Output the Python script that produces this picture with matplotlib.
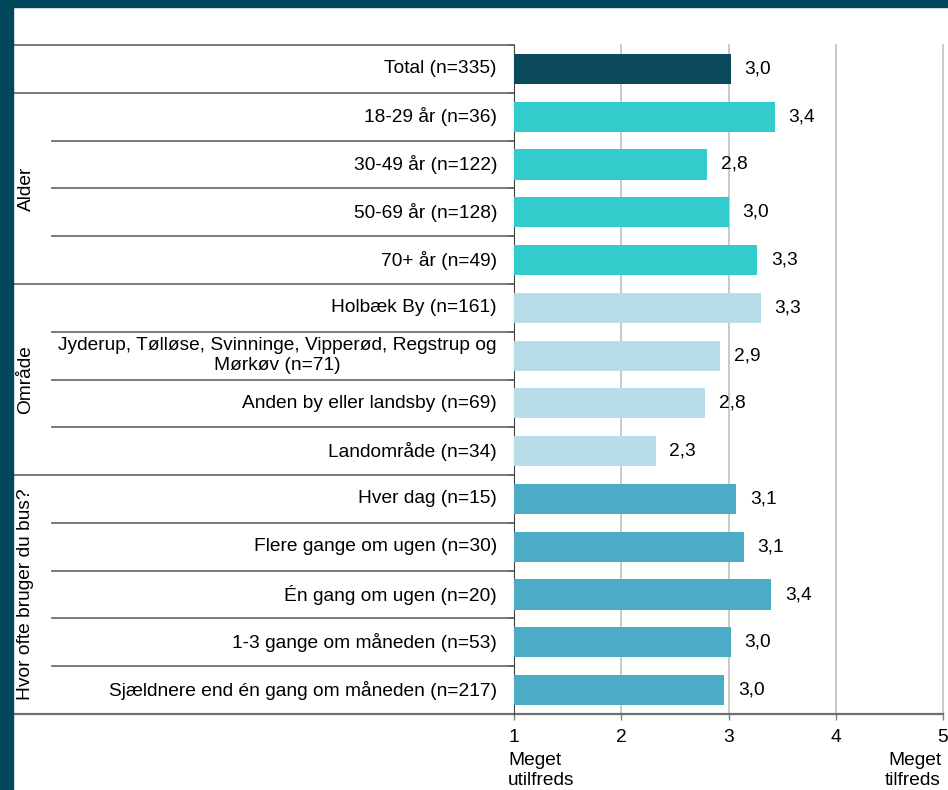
import matplotlib
matplotlib.use("Agg")
import matplotlib.pyplot as plt
import numpy as np
from matplotlib.patches import Rectangle
from matplotlib.transforms import blended_transform_factory

plt.rcParams['font.family'] = ['Liberation Sans', 'DejaVu Sans']

categories = ["Total (n=335)", "18-29 år (n=36)", "30-49 år (n=122)", "50-69 år (n=128)",
              "70+ år (n=49)", "Holbæk By (n=161)",
              "Jyderup, Tølløse, Svinninge, Vipperød, Regstrup og\nMørkøv (n=71)",
              "Anden by eller landsby (n=69)", "Landområde (n=34)", "Hver dag (n=15)",
              "Flere gange om ugen (n=30)", "Én gang om ugen (n=20)",
              "1-3 gange om måneden (n=53)", "Sjældnere end én gang om måneden (n=217)"]
values = [3.02, 3.43, 2.80, 3.00, 3.27, 3.30, 2.92, 2.78, 2.32, 3.07, 3.14, 3.40, 3.02, 2.96]
groups = ["", "Alder", "Alder", "Alder", "Alder", "Område", "Område", "Område", "Område",
          "Hvor ofte bruger du bus?", "Hvor ofte bruger du bus?", "Hvor ofte bruger du bus?",
          "Hvor ofte bruger du bus?", "Hvor ofte bruger du bus?"]
group_colors = {"": "#0A4A5C", "Alder": "#33CCCC", "Område": "#B7DEE8",
                "Hvor ofte bruger du bus?": "#4BACC6"}
x_ticks = [1, 2, 3, 4, 5]
x_tick_labels = ["1", "2", "3", "4", "5"]
end_labels = ["Meget\nutilfreds", "Meget\ntilfreds"]

FS = 13.8
LINE = "#6E6E6E"
W, H = 948, 790
fig = plt.figure(figsize=(W / 100, H / 100), dpi=100)
ax = fig.add_axes([514 / W, 1 - 714 / H, (943 - 514) / W, (714 - 45) / H])

n = len(categories)
y = np.arange(n)
colors = [group_colors[g] for g in groups]
base = 1
ax.barh(y, np.array(values) - base, left=base, height=0.63, color=colors, zorder=3)
ax.set_ylim(n - 0.5, -0.5)
ax.set_xlim(1, 5)

for yi, v in zip(y, values):
    ax.annotate(f"{v:.1f}".replace('.', ','), xy=(v, yi), xytext=(10, 0),
                textcoords="offset points", va="center", ha="left", fontsize=FS,
                color="#000000", zorder=4)

# grid
for xv in x_ticks[1:]:
    ax.axvline(xv, color="#C0C0C0", lw=1.2, zorder=1, clip_on=False)

ax.set_xticks(x_ticks)
ax.set_xticklabels(x_tick_labels, fontsize=FS)
ax.tick_params(axis='x', length=4, width=1, color="#808080", pad=7)
ax.set_yticks(np.arange(-0.5, n, 1))
ax.set_yticklabels([])
ax.tick_params(axis='y', length=4, width=1.2, color="#202020")
for s in ["top", "right"]:
    ax.spines[s].set_visible(False)
ax.spines["left"].set_color("#404040")
ax.spines["bottom"].set_visible(False)

tr = blended_transform_factory(fig.transFigure, ax.transData)
# row labels
for yi, lab in zip(y, categories):
    ax.text(497 / W, yi, lab, transform=tr, ha="right", va="center", fontsize=FS,
            multialignment="center", linespacing=1.2)

# table lines
left_full = 13 / W
left_inner = 52 / W
spine_x = 514 / W
boundaries = np.arange(-0.5, n, 1)
for i, b in enumerate(boundaries):
    if i == 0 or i == n:
        continue
    same = groups[i - 1] == groups[i] and groups[i] != ""
    x0 = left_inner if same else left_full
    ax.plot([x0, spine_x], [b, b], transform=tr, color=LINE, lw=1.3, clip_on=False)
ax.plot([left_full, spine_x], [-0.5, -0.5], transform=tr, color=LINE, lw=1.3, clip_on=False)
ax.plot([left_full, 943 / W], [n - 0.5, n - 0.5], transform=tr, color=LINE, lw=1.6,
        clip_on=False)

# group labels
seen = []
for g in groups:
    if g and g not in seen:
        seen.append(g)
for g in seen:
    idx = [i for i, gg in enumerate(groups) if gg == g]
    yc = (idx[0] + idx[-1]) / 2
    ax.text(26 / W, yc, g, transform=tr, rotation=90, ha="center", va="center", fontsize=FS)

# end labels
ax.text(508 / W, 1 - 752 / H, end_labels[0], transform=fig.transFigure, ha="left", va="top",
        fontsize=FS, linespacing=1.2)
ax.text(941 / W, 1 - 752 / H, end_labels[1], transform=fig.transFigure, ha="right", va="top",
        fontsize=FS, linespacing=1.2)

# border frame
border = "#03475D"
fig.patches.append(Rectangle((0, 1 - 7 / H), 1, 7 / H, transform=fig.transFigure,
                             color=border, zorder=10))
fig.patches.append(Rectangle((0, 0), 13 / W, 1, transform=fig.transFigure,
                             color=border, zorder=10))

fig.savefig("out.png", dpi=100)
